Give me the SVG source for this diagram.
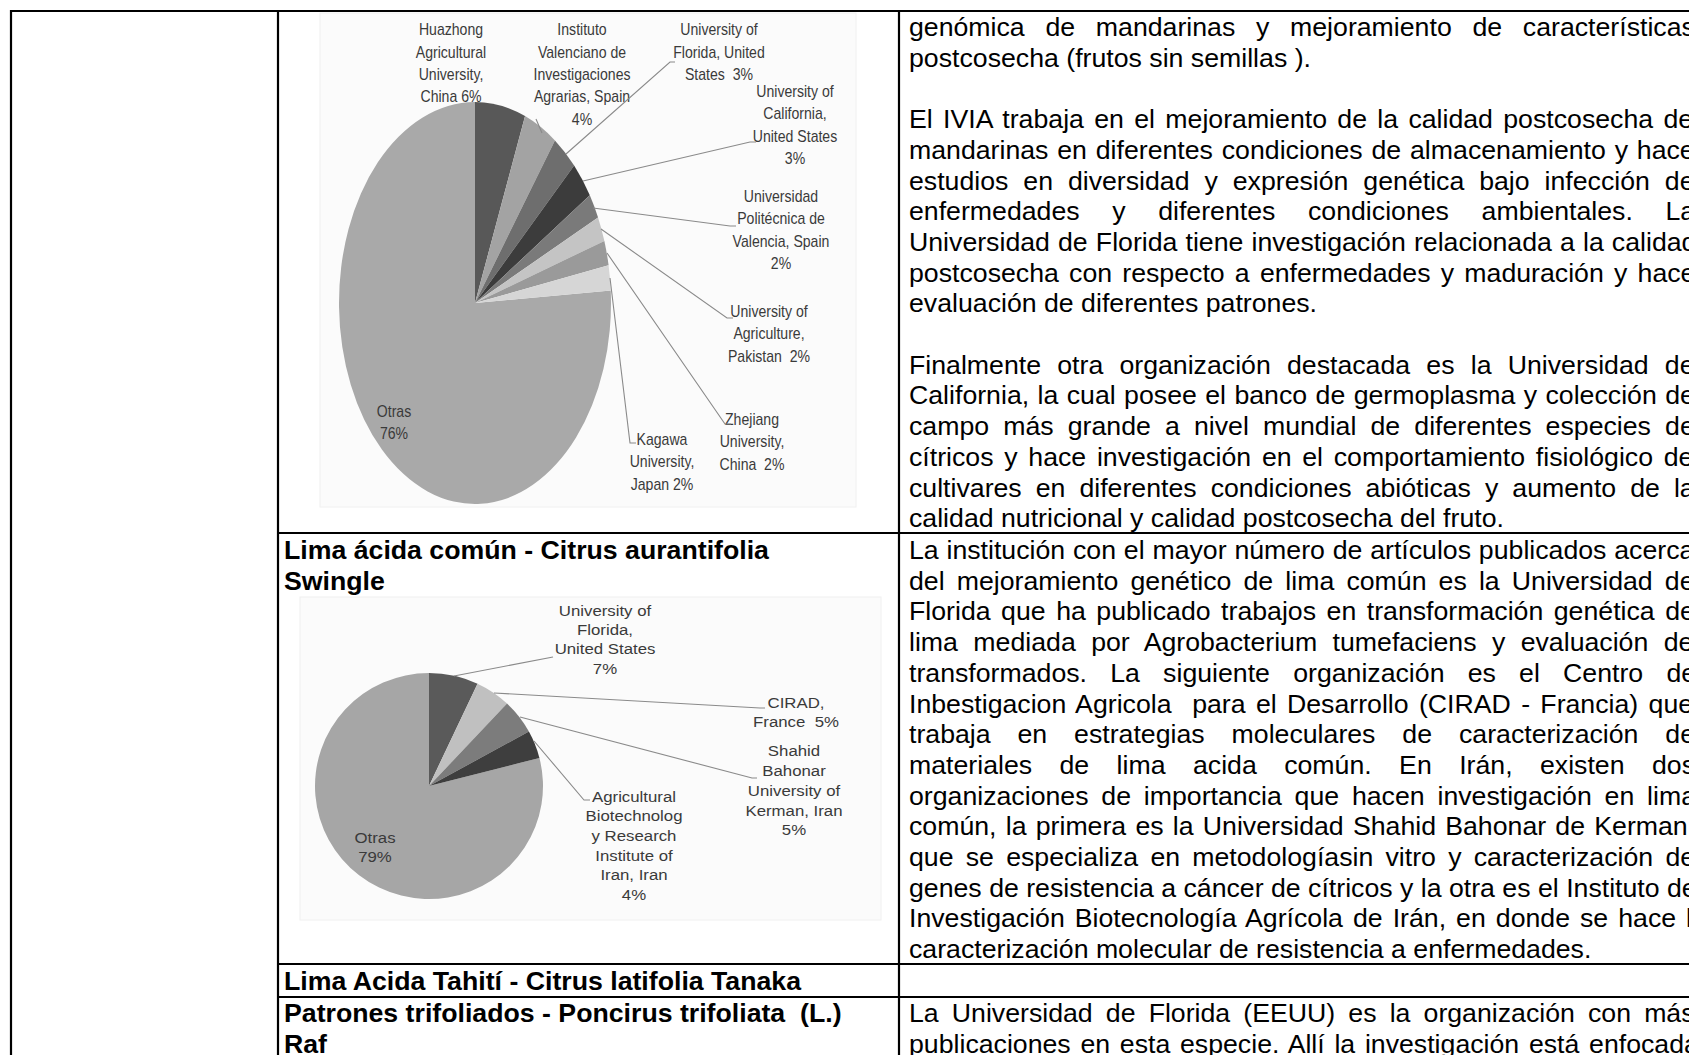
<svg xmlns="http://www.w3.org/2000/svg" width="1689" height="1055" viewBox="0 0 1689 1055">
<style>
.body{font-family:"Liberation Sans",Arial,sans-serif;font-size:26.7px;fill:#000}
.head{font-family:"Liberation Sans",Arial,sans-serif;font-size:26.7px;font-weight:bold;fill:#000}
.lab1{font-family:"Liberation Sans",Arial,sans-serif;font-size:16px;fill:#3a3a3a;text-anchor:middle}
.lab2{font-family:"Liberation Sans",Arial,sans-serif;font-size:15px;fill:#3a3a3a;text-anchor:middle}
.grid{stroke:#000;stroke-width:2.2;fill:none}
.lead{stroke:#8a8a8a;stroke-width:1.1;fill:none}
.bg{fill:#fbfbfb;stroke:#f0f0f0;stroke-width:1}
</style>
<rect width="1689" height="1055" fill="#fff"/>

<g id="table">
<line class="grid" x1="10" y1="11" x2="1689" y2="11"/>
<line class="grid" x1="11" y1="10" x2="11" y2="1055"/>
<line class="grid" x1="278" y1="10" x2="278" y2="1055"/>
<line class="grid" x1="899" y1="10" x2="899" y2="1055"/>
<line class="grid" x1="278" y1="533" x2="1689" y2="533"/>
<line class="grid" x1="278" y1="964" x2="1689" y2="964"/>
<line class="grid" x1="278" y1="997" x2="1689" y2="997"/>
</g>

<g id="chart1">
<rect class="bg" x="320" y="13" width="536" height="494"/>
<path d="M475,303 L610.73,290.38 A136,201 0 1 1 475,102 Z" fill="#a9a9a9"/>
<path d="M475,303 L475,102 A136,201 0 0 1 525.06,116.11 Z" fill="#585858"/>
<path d="M475,303 L525.06,116.11 A136,201 0 0 1 554.94,140.39 Z" fill="#a3a3a3"/>
<path d="M475,303 L554.94,140.39 A136,201 0 0 1 574.14,165.42 Z" fill="#6e6e6e"/>
<path d="M475,303 L574.14,165.42 A136,201 0 0 1 589.82,195.30 Z" fill="#3c3c3c"/>
<path d="M475,303 L589.82,195.30 A136,201 0 0 1 598.05,217.41 Z" fill="#7a7a7a"/>
<path d="M475,303 L598.05,217.41 A136,201 0 0 1 604.35,240.89 Z" fill="#c4c4c4"/>
<path d="M475,303 L604.35,240.89 A136,201 0 0 1 608.59,265.33 Z" fill="#9a9a9a"/>
<path d="M475,303 L608.59,265.33 A136,201 0 0 1 610.73,290.38 Z" fill="#d6d6d6"/>
<text class="lab1" transform="translate(451,0) scale(0.88,1)"><tspan x="0" y="35.5">Huazhong</tspan><tspan x="0" y="57.8">Agricultural</tspan><tspan x="0" y="80.1">University,</tspan><tspan x="0" y="102.4">China 6%</tspan></text>
<text class="lab1" transform="translate(582,0) scale(0.88,1)"><tspan x="0" y="35.5">Instituto</tspan><tspan x="0" y="57.8">Valenciano de</tspan><tspan x="0" y="80.1">Investigaciones</tspan><tspan x="0" y="102.4">Agrarias, Spain</tspan><tspan x="0" y="124.7">4%</tspan></text>
<text class="lab1" transform="translate(719,0) scale(0.88,1)"><tspan x="0" y="35.5">University of</tspan><tspan x="0" y="57.8">Florida, United</tspan><tspan x="0" y="80.1">States&#160; 3%</tspan></text>
<text class="lab1" transform="translate(795,0) scale(0.88,1)"><tspan x="0" y="97">University of</tspan><tspan x="0" y="119.5">California,</tspan><tspan x="0" y="142">United States</tspan><tspan x="0" y="164.5">3%</tspan></text>
<text class="lab1" transform="translate(781,0) scale(0.88,1)"><tspan x="0" y="202">Universidad</tspan><tspan x="0" y="224.5">Politécnica de</tspan><tspan x="0" y="247">Valencia, Spain</tspan><tspan x="0" y="269.5">2%</tspan></text>
<text class="lab1" transform="translate(769,0) scale(0.88,1)"><tspan x="0" y="317">University of</tspan><tspan x="0" y="339.5">Agriculture,</tspan><tspan x="0" y="362">Pakistan&#160; 2%</tspan></text>
<text class="lab1" transform="translate(752,0) scale(0.88,1)"><tspan x="0" y="425">Zhejiang</tspan><tspan x="0" y="447.5">University,</tspan><tspan x="0" y="470">China&#160; 2%</tspan></text>
<text class="lab1" transform="translate(662,0) scale(0.88,1)"><tspan x="0" y="445">Kagawa</tspan><tspan x="0" y="467.5">University,</tspan><tspan x="0" y="490">Japan 2%</tspan></text>
<text class="lab1" transform="translate(394,0) scale(0.88,1)"><tspan x="0" y="417">Otras</tspan><tspan x="0" y="439.5">76%</tspan></text>
</g>

<g id="chart2">
<rect class="bg" x="300" y="597" width="581" height="323"/>
<path d="M429,786 L539.42,757.90 A114,113 0 1 1 429,673 Z" fill="#a6a6a6"/>
<path d="M429,786 L429,673 A114,113 0 0 1 477.54,683.76 Z" fill="#5a5a5a"/>
<path d="M429,786 L477.54,683.76 A114,113 0 0 1 507.03,703.62 Z" fill="#c0c0c0"/>
<path d="M429,786 L507.03,703.62 A114,113 0 0 1 528.90,731.56 Z" fill="#7c7c7c"/>
<path d="M429,786 L528.90,731.56 A114,113 0 0 1 539.42,757.90 Z" fill="#3e3e3e"/>
<text class="lab2" transform="translate(605,0) scale(1.12,1)"><tspan x="0" y="616">University of</tspan><tspan x="0" y="635">Florida,</tspan><tspan x="0" y="654">United States</tspan><tspan x="0" y="674">7%</tspan></text>
<text class="lab2" transform="translate(796,0) scale(1.12,1)"><tspan x="0" y="708">CIRAD,</tspan><tspan x="0" y="727">France&#160; 5%</tspan></text>
<text class="lab2" transform="translate(794,0) scale(1.12,1)"><tspan x="0" y="756">Shahid</tspan><tspan x="0" y="776">Bahonar</tspan><tspan x="0" y="796">University of</tspan><tspan x="0" y="816">Kerman, Iran</tspan><tspan x="0" y="835">5%</tspan></text>
<text class="lab2" transform="translate(634,0) scale(1.12,1)"><tspan x="0" y="802">Agricultural</tspan><tspan x="0" y="821">Biotechnolog</tspan><tspan x="0" y="841">y Research</tspan><tspan x="0" y="861">Institute of</tspan><tspan x="0" y="880">Iran, Iran</tspan><tspan x="0" y="900">4%</tspan></text>
<text class="lab2" transform="translate(375,0) scale(1.12,1)"><tspan x="0" y="843">Otras</tspan><tspan x="0" y="862">79%</tspan></text>
</g>

<g id="connectors">
<polyline class="lead" points="542,133 536,119"/>
<polyline class="lead" points="566,154 670,62 675,62"/>
<polyline class="lead" points="583,181 750,142 756,142"/>
<polyline class="lead" points="593,208 730,226 736,226"/>
<polyline class="lead" points="601,229 727,318 733,318"/>
<polyline class="lead" points="607,253 725,424 731,424"/>
<polyline class="lead" points="610,278 630,443 636,443"/>
<polyline class="lead" points="454,676 553,657"/>
<polyline class="lead" points="494,693 760,708 765,708"/>
<polyline class="lead" points="520,717 752,778 757,778"/>
<polyline class="lead" points="534,741 584,800 590,800"/>
</g>

<g id="col2-headings">
<text class="head" x="284" y="559">Lima ácida común - Citrus aurantifolia</text>
<text class="head" x="284" y="590">Swingle</text>
<text class="head" x="284" y="990">Lima Acida Tahití - Citrus latifolia Tanaka</text>
<text class="head" x="284" y="1022">Patrones trifoliados - Poncirus trifoliata&#160; (L.)</text>
<text class="head" x="284" y="1053">Raf</text>
</g>

<g id="text-row1">
<text class="body" x="909" y="36" word-spacing="13.3">genómica de mandarinas y mejoramiento de características</text>
<text class="body" x="909" y="66.7">postcosecha (frutos sin semillas ).</text>
<text class="body" x="909" y="128.1" word-spacing="2.9">El IVIA trabaja en el mejoramiento de la calidad postcosecha de</text>
<text class="body" x="909" y="158.8" word-spacing="1.4">mandarinas en diferentes condiciones de almacenamiento y hace</text>
<text class="body" x="909" y="189.5" word-spacing="7.5">estudios en diversidad y expresión genética bajo infección de</text>
<text class="body" x="909" y="220.2" word-spacing="25.2">enfermedades y diferentes condiciones ambientales. La</text>
<text class="body" x="909" y="250.9" word-spacing="0.7">Universidad de Florida tiene investigación relacionada a la calidad</text>
<text class="body" x="909" y="281.6" word-spacing="2.8">postcosecha con respecto a enfermedades y maduración y hace</text>
<text class="body" x="909" y="312.3">evaluación de diferentes patrones.</text>
<text class="body" x="909" y="373.7" word-spacing="8.8">Finalmente otra organización destacada es la Universidad de</text>
<text class="body" x="909" y="404.4" word-spacing="1.0">California, la cual posee el banco de germoplasma y colección de</text>
<text class="body" x="909" y="435.1" word-spacing="6.7">campo más grande a nivel mundial de diferentes especies de</text>
<text class="body" x="909" y="465.8" word-spacing="3.3">cítricos y hace investigación en el comportamiento fisiológico de</text>
<text class="body" x="909" y="496.5" word-spacing="6.6">cultivares en diferentes condiciones abióticas y aumento de la</text>
<text class="body" x="909" y="527.2">calidad nutricional y calidad postcosecha del fruto.</text>
</g>

<g id="text-row2">
<text class="body" x="909" y="559" word-spacing="0.4">La institución con el mayor número de artículos publicados acerca</text>
<text class="body" x="909" y="589.7" word-spacing="4.7">del mejoramiento genético de lima común es la Universidad de</text>
<text class="body" x="909" y="620.4" word-spacing="3.1">Florida que ha publicado trabajos en transformación genética de</text>
<text class="body" x="909" y="651.1" word-spacing="8.0">lima mediada por Agrobacterium tumefaciens y evaluación de</text>
<text class="body" x="909" y="681.8" word-spacing="15.8">transformados. La siguiente organización es el Centro de</text>
<text class="body" x="909" y="712.5" word-spacing="2.9">Inbestigacion Agricola&#160; para el Desarrollo (CIRAD - Francia) que</text>
<text class="body" x="909" y="743.2" word-spacing="19.5">trabaja en estrategias moleculares de caracterización de</text>
<text class="body" x="909" y="773.9" word-spacing="20">materiales de lima acida común. En Irán, existen dos</text>
<text class="body" x="909" y="804.6" word-spacing="5.4">organizaciones de importancia que hacen investigación en lima</text>
<text class="body" x="909" y="835.3" word-spacing="1.8">común, la primera es la Universidad Shahid Bahonar de Kerman,</text>
<text class="body" x="909" y="866" word-spacing="4.8">que se especializa en metodologíasin vitro y caracterización de</text>
<text class="body" x="909" y="896.7">genes de resistencia a cáncer de cítricos y la otra es el Instituto de</text>
<text class="body" x="909" y="927.4" word-spacing="2.6">Investigación Biotecnología Agrícola de Irán, en donde se hace la</text>
<text class="body" x="909" y="958.1">caracterización molecular de resistencia a enfermedades.</text>
</g>

<g id="text-row4">
<text class="body" x="909" y="1022" word-spacing="5.7">La Universidad de Florida (EEUU) es la organización con más</text>
<text class="body" x="909" y="1053" word-spacing="2.3">publicaciones en esta especie. Allí la investigación está enfocada</text>
</g>
</svg>
